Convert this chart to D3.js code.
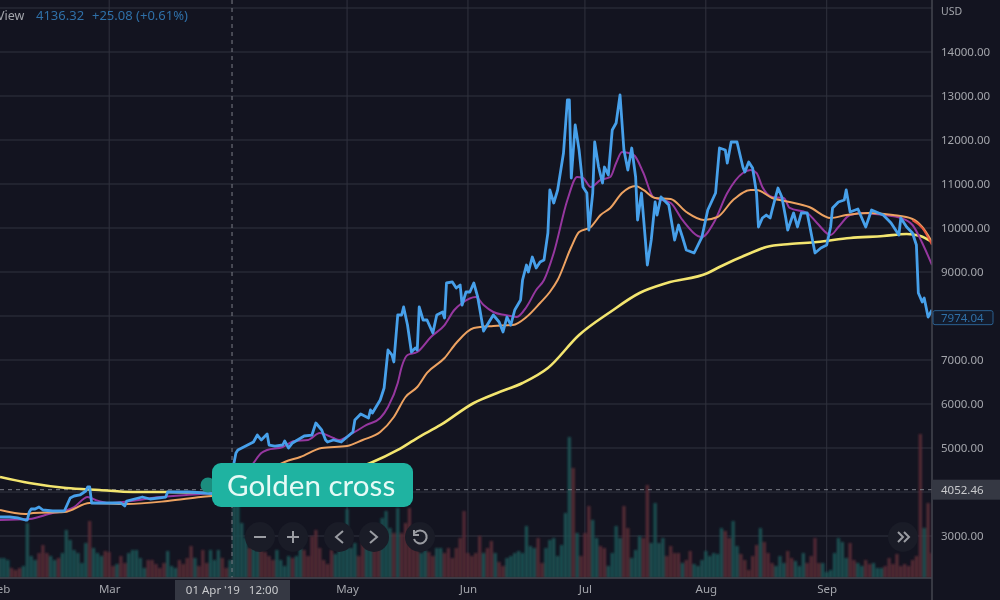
<!DOCTYPE html>
<html>
<head>
<meta charset="utf-8">
<script src="https://cdn.jsdelivr.net/npm/d3@7"></script>
<style>
  html, body { margin: 0; padding: 0; background: #131420; overflow: hidden; }
  svg { display: block; font-family: "Noto Sans", sans-serif; filter: blur(0.4px); }
</style>
</head>
<body>
<svg id="chart" width="1000" height="600"></svg>
<script>
// Values. "Days" are days since 01 Feb 2019
var priceDays = [0,2.5,4.5,6.5,7,7.5,8,9,10,11,13.5,16.5,18,19,20.5,22,22.5,23,23.5,28,31,32,32.5,34.5,36.5,38.5,42.5,43,45,48.5,52.5,55,59.5,60,60.5,61,62.5,63.5,65,66,67,68.5,69,70.5,72.5,73,74,75,78,80,81,82.5,83.5,84,85.5,87.5,90.5,91,92.5,94.5,95,95.5,97.5,98.5,99.5,100.5,101,102,103,103.5,104.5,105.5,106.5,107,107.5,108.5,109.5,111,112,113.5,114,114.5,116,117,118,118.5,119.5,120.5,121.5,122.5,124,126.5,128,129,130,131,132,133.5,134,135,135.5,136.5,137.5,138.5,139.5,140.5,141,142,143,144.5,145.5,146,146.5,147.5,148.5,149.5,150.5,151,152,152.5,153.5,154.5,155,156,157,158,159,160,161,162,163,163.5,164.5,165.5,166,167,168,168.5,169.5,171.5,173,174,175,176,178,180,181.5,183.5,184.5,186,186.5,187.5,189,190.5,191,192,193,194,194.5,195.5,196.5,197.5,198,199.5,200.5,201.5,202,203.5,204.5,205.5,207,207.5,209,210.5,212,213,213.5,215,216.5,217,218,220,222,223.5,226.5,228.5,230.5,231,232.5,234,235,235.5,236.5,237,238,239];
var priceValues = [3432,3432,3410,3364,3364,3545,3614,3614,3659,3591,3568,3568,3864,3909,3932,4023,4114,4114,3750,3750,3750,3682,3795,3841,3886,3841,3886,4000,4000,4000,3977,3955,4045,4659,4886,4955,5023,5068,5136,5295,5182,5318,5068,5045,5068,5159,5000,5114,5273,5295,5568,5409,5182,5136,5182,5136,5364,5636,5773,5682,5864,5795,6091,6364,7227,7114,6955,8023,8023,8205,7795,7182,7273,7227,8205,7909,7909,7614,8023,8091,7955,8750,8773,8636,8705,8250,8545,8545,8750,8432,7659,8023,7864,7636,7977,7795,8136,8364,8818,9159,9000,9341,9091,9227,9273,9886,10864,10568,10864,11705,12909,12909,11136,12341,11773,10932,10795,9955,10795,11955,11386,11023,11386,11205,12227,12386,13023,11773,11318,11818,11159,10182,10795,9727,9159,9727,10591,10295,10705,10523,9727,10068,9795,9500,9432,9795,10409,10795,11818,11773,11477,11955,11955,11386,11273,11500,11364,10795,10023,10227,10295,10227,10409,10909,10705,10227,9955,10341,10023,10341,10341,10114,9432,9545,9614,10023,10455,10591,10636,10864,10364,10432,10023,10409,10295,10114,9841,10227,10023,9886,9614,8523,8318,8409,7977,8136];

var shortDays = [0,7.5,13.5,16.5,19,22.5,24.5,28,33.5,41,51.5,59.5,65,67,68.5,72.5,75.5,79,82,85.5,87,90.5,94,97.5,99.5,102,103,104.5,107,110.5,114,116.5,118.5,122,124,126.5,129.5,132.5,135,137.5,139.5,142,145.5,148,149.5,151.5,154,156.5,158,159.5,162.5,165,167.5,172,175,180,183,186.5,190.5,192.5,194,195.5,198,201,202.5,207,209.5,213,215,218,221.5,226.5,231,234,236.5,239];
var shortValues = [3364,3386,3523,3568,3659,3886,3818,3750,3795,3886,3955,4023,4659,4886,4955,5023,5159,5182,5341,5227,5182,5341,5523,5682,5932,6477,6841,7114,7182,7523,7795,8136,8295,8432,8250,8091,8023,7977,8205,8591,8818,9432,10636,11159,11136,10932,11091,11159,11477,11727,11659,11250,10705,10568,10182,9795,10114,10795,11250,11318,11250,10932,10705,10682,10455,10341,10114,9841,10023,10295,10341,10295,10227,10068,9659,9159];

var midDays = [0,6.5,8.5,16.5,23,32.5,43,51.5,59.5,64,73,77,82.5,89,93,97.5,101,104,107,109.5,114,117,121.5,126.5,131.5,135,138.5,141,143,146.5,148.5,151.5,154,156.5,159.5,163,165,168,172,176,180.5,184,188,192.5,194,198,202.5,207.5,213,217,222.5,229,234,236.5,239];
var midValues = [3591,3500,3523,3545,3750,3727,3795,3886,3955,4159,4682,4795,5000,5045,5182,5364,5705,6159,6386,6705,7045,7386,7727,7773,7795,7977,8295,8545,8818,9568,9909,10023,10295,10455,10795,10955,10864,10682,10659,10364,10182,10250,10636,10864,10864,10682,10591,10477,10227,10295,10341,10295,10205,10023,9682];

var longDays = [0,7.5,17,25.5,34,43,54,66.5,79.5,88.5,95,102,107,113,121.5,127.5,134,140.5,148.5,156.5,164,171,181.5,184.5,192.5,196.5,202.5,209.5,218,226.5,232.5,236,239];
var longValues = [4341,4205,4091,4045,4000,4000,3977,4045,4205,4455,4659,4955,5227,5523,6023,6250,6477,6818,7568,8091,8523,8750,8977,9114,9432,9568,9636,9682,9773,9818,9864,9818,9682];

// the red average only shows where it leaves the orange one, at the right end
var redDays = [234,236.5,239];
var redValues = [10180,10000,9620];

// one bar a day, day 0 to day 239
var volumes = [20,20,18,10,8,10,12,55,22,18,25,33,25,22,18,20,25,48,38,28,25,15,35,57,30,25,22,27,26,12,14,22,15,25,28,28,20,10,18,18,14,10,15,27,12,10,18,14,20,32,20,12,28,15,28,18,28,20,10,18,75,78,55,40,30,40,35,30,26,22,18,28,18,12,22,20,22,32,28,22,42,48,30,18,14,28,24,30,35,69,30,35,22,40,35,30,28,45,60,67,50,45,70,45,55,70,50,32,25,28,26,22,30,30,25,30,20,30,40,67,25,22,25,42,25,30,37,25,16,12,20,22,25,27,25,52,32,30,40,15,30,38,40,22,33,65,141,110,45,22,45,72,58,40,32,30,12,25,52,40,72,50,20,28,42,40,93,35,75,35,40,22,32,25,25,15,18,27,14,12,18,27,22,25,24,50,47,40,57,32,24,18,8,22,33,50,36,25,15,12,22,15,27,20,17,12,25,15,22,40,15,15,6,8,25,40,36,20,35,18,15,12,18,14,15,10,10,12,20,14,24,12,14,12,18,22,144,50,75,25];
// 1 = up day (teal), 0 = down day (red)
var volumeUp = [1,1,1,0,0,0,1,1,1,1,0,0,0,1,1,0,1,1,1,1,1,1,1,0,1,1,1,0,0,0,1,0,0,1,1,1,1,1,0,0,0,0,0,1,1,1,0,0,0,0,1,0,0,0,1,1,1,0,0,1,1,1,1,1,0,1,1,0,0,0,0,1,1,1,1,0,1,1,0,0,0,0,0,0,0,0,1,1,1,1,1,1,0,0,1,1,0,0,1,1,1,0,1,0,0,0,0,0,1,1,0,0,1,1,0,0,0,0,0,0,0,0,0,0,1,0,0,1,0,0,1,1,1,1,1,1,1,1,0,0,1,1,1,1,1,1,1,0,1,0,0,0,1,1,0,0,1,1,1,1,0,0,1,1,1,0,0,1,1,1,1,0,0,0,0,1,0,0,1,1,1,1,1,1,1,1,0,0,1,1,0,0,0,0,0,1,0,0,0,1,1,1,0,0,1,1,1,0,0,0,0,1,1,1,1,1,1,1,0,0,1,1,0,0,1,1,1,0,0,0,0,0,0,0,0,0,0,1,0,0];

var priceTicks = [3000,4000,5000,6000,7000,8000,9000,10000,11000,12000,13000,14000,15000];
// these get a label; 4000 sits under the crosshair tag, 15000 under USD
var priceLabels = [3000,5000,6000,7000,8000,9000,10000,11000,12000,13000,14000];
var monthTicks = [[2019,1,"Feb"],[2019,2,"Mar"],[2019,4,"May"],[2019,5,"Jun"],[2019,6,"Jul"],[2019,7,"Aug"],[2019,8,"Sep"]];
var crossPrice = 4052.46;
var lastPrice = 7974.04;
var crossDate = new Date(Date.UTC(2019, 3, 1, 12));

var plotRight = 932, plotBottom = 578;
var startMs = Date.UTC(2019, 1, 1);
function dayToDate(d) { return new Date(startMs + d * 86400000); }

var x = d3.scaleUtc().domain([dayToDate(0), dayToDate(239)]).range([0, plotRight]);
var y = d3.scaleLinear().domain([3000, 14000]).range([536, 52]);
var yVol = d3.scaleLinear().domain([0, d3.max(volumes)]).range([plotBottom, plotBottom - 144]);

var svg = d3.select("#chart");
svg.append("rect").attr("width", 1000).attr("height", 600).attr("fill", "#131420");

svg.append("clipPath").attr("id", "plot")
    .append("rect").attr("width", plotRight).attr("height", plotBottom);
svg.append("filter").attr("id", "soft").append("feGaussianBlur").attr("stdDeviation", 0.8);

// Grid
var gridColor = "#30323e";
svg.append("g").selectAll("line").data(priceTicks).join("line")
    .attr("x1", 0).attr("x2", plotRight)
    .attr("y1", d => y(d)).attr("y2", d => y(d))
    .attr("stroke", gridColor);
svg.append("g").selectAll("line").data(monthTicks.slice(1)).join("line")
    .attr("x1", d => x(new Date(Date.UTC(d[0], d[1], 1)))).attr("x2", d => x(new Date(Date.UTC(d[0], d[1], 1))))
    .attr("y1", 0).attr("y2", plotBottom)
    .attr("stroke", gridColor);

// Volume
var barW = x(dayToDate(1)) - x(dayToDate(0));
svg.append("g").attr("clip-path", "url(#plot)").attr("filter", "url(#soft)")
    .selectAll("rect").data(volumes).join("rect")
    .attr("x", (d, i) => x(dayToDate(i)) - barW / 2 + 0.4)
    .attr("width", barW - 0.8)
    .attr("y", d => yVol(d))
    .attr("height", d => plotBottom - yVol(d))
    .attr("fill", (d, i) => volumeUp[i] ? "#1e5152" : "#562a35");

// Crosshair
var crossStyle = "#7d7f88";
svg.append("line")
    .attr("x1", 0).attr("x2", plotRight).attr("y1", y(crossPrice)).attr("y2", y(crossPrice))
    .attr("stroke", crossStyle).attr("stroke-dasharray", "4,4");
svg.append("line")
    .attr("x1", x(crossDate)).attr("x2", x(crossDate)).attr("y1", 0).attr("y2", plotBottom)
    .attr("stroke", crossStyle).attr("stroke-dasharray", "4,4");

// Moving averages and price
var line = d3.line().x(d => x(dayToDate(d[0]))).y(d => y(d[1]));
var smooth = d3.line().x(d => x(dayToDate(d[0]))).y(d => y(d[1])).curve(d3.curveMonotoneX);
function drawLine(days, values, color, width, gen) {
    svg.append("path")
        .attr("clip-path", "url(#plot)")
        .attr("d", gen(days.map((d, i) => [d, values[i]])))
        .attr("fill", "none")
        .attr("stroke", color)
        .attr("stroke-width", width)
        .attr("stroke-linejoin", "round");
}
drawLine(longDays, longValues, "#f3e56f", 2.6, smooth);
drawLine(shortDays, shortValues, "#96379f", 2, smooth);
drawLine(midDays, midValues, "#eda261", 2, smooth);
drawLine(redDays, redValues, "#e8583f", 2, smooth);
drawLine(priceDays, priceValues, "#47a0ea", 2.8, line);

// Axis frame
svg.append("line").attr("x1", plotRight).attr("x2", plotRight).attr("y1", 0).attr("y2", 600).attr("stroke", "#44464f").attr("stroke-width", 1.5);
svg.append("line").attr("x1", 0).attr("x2", plotRight).attr("y1", plotBottom).attr("y2", plotBottom).attr("stroke", "#44464f").attr("stroke-width", 1.5);

// Axes
var yAxis = d3.axisRight(y).tickValues(priceLabels).tickSize(0).tickPadding(9).tickFormat(d3.format(".2f"));
var yG = svg.append("g").attr("transform", "translate(" + plotRight + ",0)").call(yAxis);
yG.select(".domain").remove();
yG.selectAll("text").attr("fill", "#a3a5ab").attr("font-size", 11.5).attr("font-family", "Noto Sans");

var xAxis = d3.axisBottom(x)
    .tickValues(monthTicks.map(d => new Date(Date.UTC(d[0], d[1], 1))))
    .tickSize(0).tickPadding(7)
    .tickFormat(d => monthTicks.find(m => m[1] == d.getUTCMonth())[2]);
var xG = svg.append("g").attr("transform", "translate(0," + plotBottom + ")").call(xAxis);
xG.select(".domain").remove();
xG.selectAll("text").attr("fill", "#a3a5ab").attr("font-size", 11.5).attr("font-family", "Noto Sans");

svg.append("text").attr("x", 941).attr("y", 15).attr("fill", "#a3a5ab").attr("font-size", 10.5).text("USD");

// Header
svg.append("text").attr("x", -3).attr("y", 20).attr("fill", "#a3a5ab").attr("font-size", 12.5).text("View");
svg.append("text").attr("x", 36).attr("y", 20).attr("fill", "#2f70a8").attr("font-size", 13).text("4136.32");
svg.append("text").attr("x", 92).attr("y", 20).attr("fill", "#2f70a8").attr("font-size", 13).text("+25.08 (+0.61%)");

// Price labels on the axis
svg.append("rect").attr("x", 932).attr("y", y(crossPrice) - 10).attr("width", 68).attr("height", 20).attr("fill", "#353843");
svg.append("text").attr("x", 941).attr("y", y(crossPrice) + 4).attr("fill", "#c9cacd").attr("font-size", 11.5).text(d3.format(".2f")(crossPrice));

svg.append("rect").attr("x", 933).attr("y", y(lastPrice) - 6.5).attr("width", 60).attr("height", 14).attr("rx", 2)
    .attr("fill", "#131a2a").attr("stroke", "#2a5f8f");
svg.append("text").attr("x", 941).attr("y", y(lastPrice) + 4.5).attr("fill", "#2f70a8").attr("font-size", 11.5).text(d3.format(".2f")(lastPrice));

// Date label on the axis
svg.append("rect").attr("x", 175).attr("y", 580).attr("width", 115).attr("height", 20).attr("fill", "#353843");
svg.append("text").attr("x", x(crossDate)).attr("y", 594).attr("text-anchor", "middle").attr("fill", "#c9cacd").attr("font-size", 11.5)
    .attr("xml:space", "preserve").text("01 Apr '19   12:00");

// Chart buttons
var buttonY = 537;
var btn = svg.append("g");
[260, 293, 339, 374, 420, 903].forEach(function(bx) {
    btn.append("circle").attr("cx", bx).attr("cy", buttonY).attr("r", 15).attr("fill", "#1a1c27");
});
function icon(d) {
    btn.append("path").attr("d", d).attr("fill", "none").attr("stroke", "#9a9ca2").attr("stroke-width", 2);
}
icon("M254,537H266");
icon("M287,537H299M293,531V543");
icon("M343,531L336,537L343,543");
icon("M370,531L377,537L370,543");
icon("M415,533A6.5,6.5 0 1 1 414,539M414,530V535H419");
icon("M898,532L903,537L898,542M904,532L909,537L904,542");

// Golden cross callout
svg.append("circle").attr("cx", 208).attr("cy", 485).attr("r", 7.5).attr("fill", "#1b8d7e");
svg.append("rect").attr("x", 212).attr("y", 463).attr("width", 201).attr("height", 44).attr("rx", 9).attr("fill", "#1fb3a1");
svg.append("text").attr("x", 227).attr("y", 496).attr("fill", "#e6faf6").attr("font-size", 29.6).attr("font-family", "Lato").text("Golden cross");
</script>
</body>
</html>
